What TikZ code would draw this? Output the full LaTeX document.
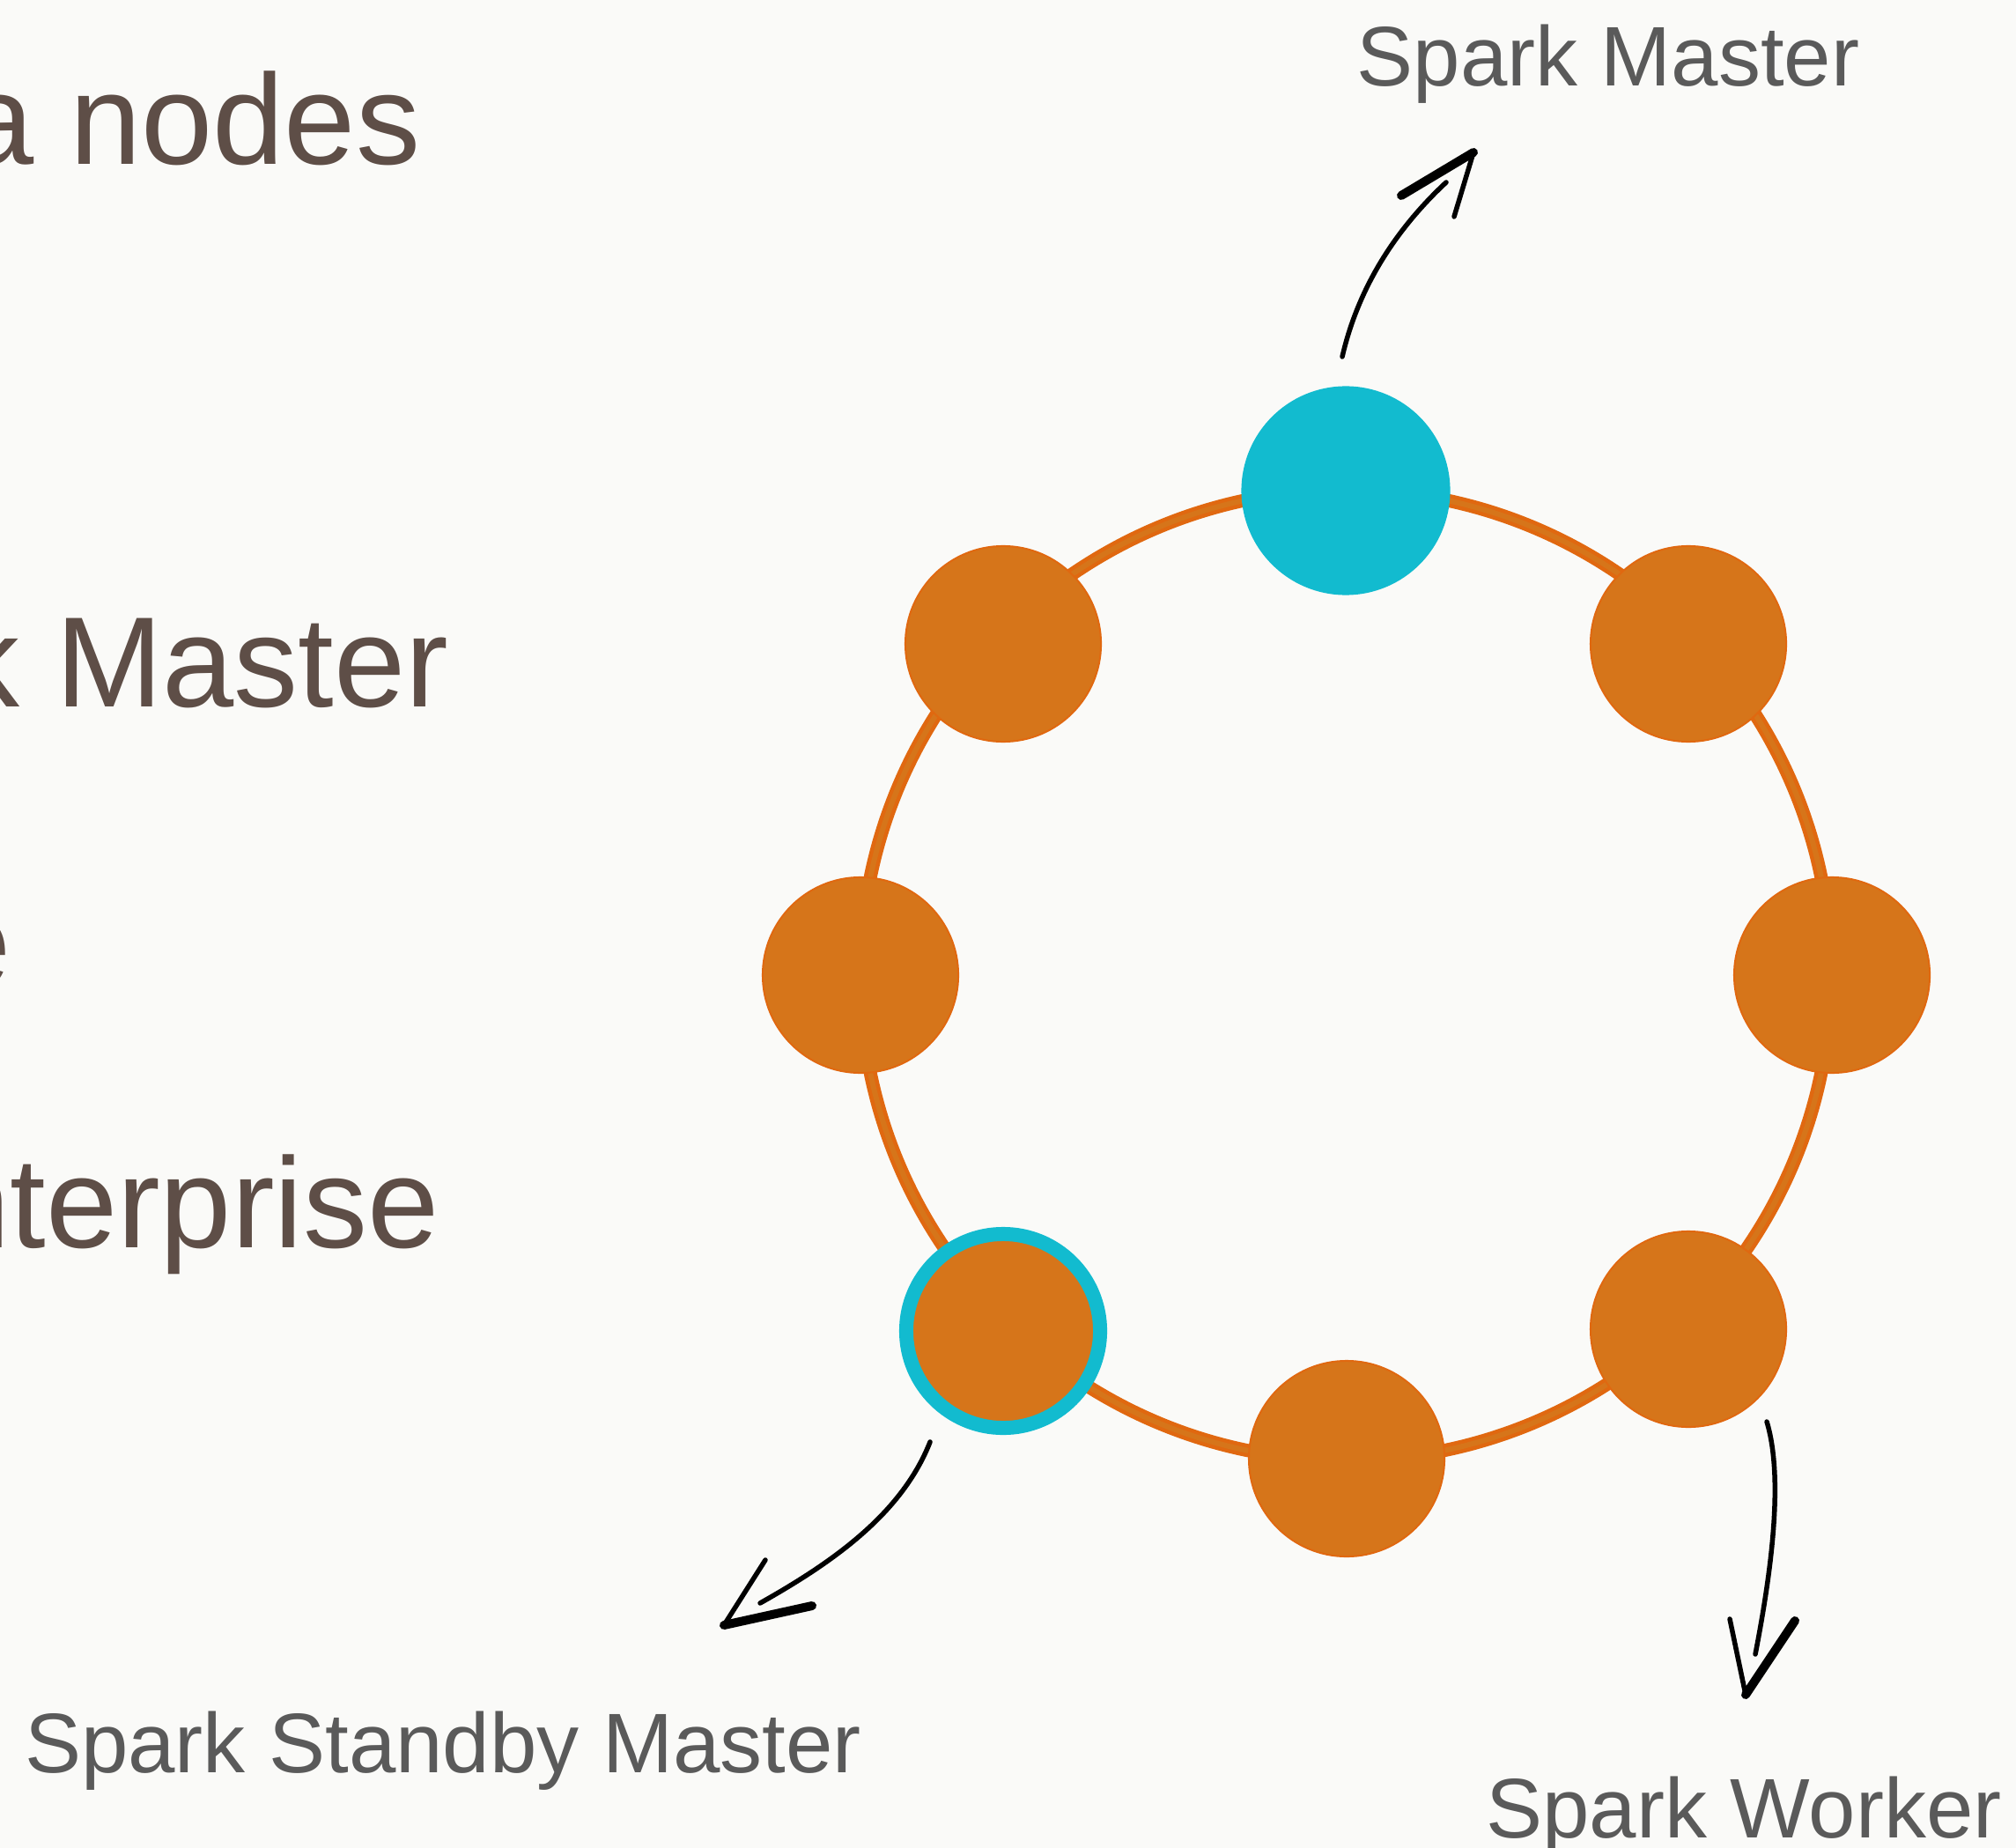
\documentclass[tikz,border=0pt]{standalone}
\usepackage{fontspec}
\setmainfont{Liberation Sans}
\definecolor{bgpaper}{RGB}{250,250,248}
\definecolor{nodeorange}{RGB}{214,117,26}
\definecolor{ringorange}{RGB}{224,104,16}
\definecolor{sparkcyan}{RGB}{18,187,207}
\definecolor{bigtext}{RGB}{94,78,71}
\definecolor{labeltext}{RGB}{90,90,90}
\begin{document}
\begin{tikzpicture}[x=0.01cm,y=-0.01cm,line join=round,line cap=round,
		worker/.style={circle,inner sep=0pt,minimum size=2.22cm,fill=nodeorange,draw=ringorange,line width=0.02cm},
		master/.style={circle,inner sep=0pt,minimum size=2.37cm,fill=sparkcyan},
		standby/.style={circle,inner sep=0pt,minimum size=2.2cm,fill=nodeorange,draw=sparkcyan,line width=0.16cm},
		bigline/.style={anchor=base east,inner sep=0pt,text=bigtext,font=\fontsize{41.5}{50}\selectfont},
		lbl/.style={anchor=base,inner sep=0pt,text=labeltext,font=\fontsize{27.3}{33}\selectfont},
		sketch/.style={draw=black,line width=0.055cm},
		barb/.style={line width=0.1cm}]
			\def \W{2289};
			\def \H{2098};
			\fill[bgpaper] (0,0) rectangle (\W,\H);
			\useasboundingbox (0,0) rectangle (\W,\H);
			\clip (0,0) rectangle (\W,\H);
			% left column (cut off)
			\node[bigline] (t1) at (478,187) {a nodes};
			\node[bigline] (t2) at (510,802) {k Master};
			\node[bigline] (t3) at (13,1120) {e};
			\node[bigline] (t4) at (499,1416) {nterprise};
			% ring
			\coordinate (ring) at (1528,1107);
			\draw[ringorange,line width=0.15cm] (ring) circle (551);
			\draw[nodeorange,line width=0.06cm] (ring) circle (551);
			\node[master] (smaster) at (1528,557) {};
			\foreach \n/\x/\y in {ne/1917/731, e/2080/1107, se/1917/1509, s/1529/1656, w/977/1107, nw/1139/731}{\node[worker] (w\n) at (\x,\y) {};}
			\node[standby] (sstandby) at (1139,1511) {};
			% labels
			\node[lbl] (lmaster) at (1826,98) {Spark Master};
			\node[lbl] (lstandby) at (503,2012) {Spark Standby Master};
			\node[lbl] (lworker) at (1980,2086) {Spark Worker};
			% hand drawn arrows
			\coordinate (mTail) at (1524,405);
			\coordinate (mEnd) at (1642,207);
			\coordinate (mTip) at (1673,173);
			\draw[sketch] (mTail) .. controls (1542,327) and (1584,261) .. (mEnd);
			\draw[sketch,barb] (mTip) -- +(-82,49);
			\draw[sketch] (mTip) -- +(-22,73);
			\coordinate (sTail) at (1056,1637);
			\coordinate (sEnd) at (863,1820);
			\coordinate (sTip) at (822,1845);
			\draw[sketch] (sTail) .. controls (1023,1721) and (941,1776) .. (sEnd);
			\draw[sketch,barb] (sTip) -- +(100,-22);
			\draw[sketch] (sTip) -- +(47,-74);
			\coordinate (wTail) at (2006,1614);
			\coordinate (wEnd) at (1993,1878);
			\coordinate (wTip) at (1982,1924);
			\draw[sketch] (wTail) .. controls (2026,1680) and (2010,1790) .. (wEnd);
			\draw[sketch,barb] (wTip) -- +(56,-84);
			\draw[sketch] (wTip) -- +(-18,-86);
	\end{tikzpicture}
\end{document}
